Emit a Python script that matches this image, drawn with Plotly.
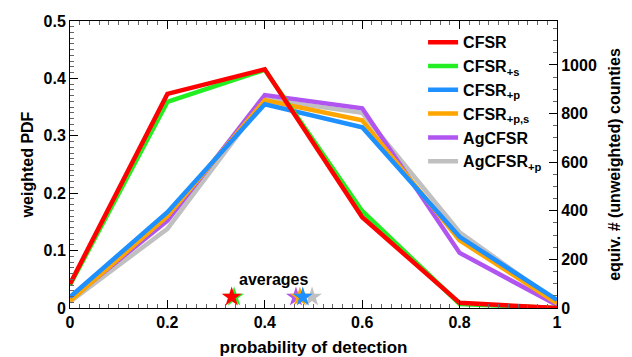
import plotly.graph_objects as go

x = [0, 0.2, 0.4, 0.6, 0.8, 1.0]
names = ["CFSR", "CFSR<sub>+s</sub>", "CFSR<sub>+p</sub>", "CFSR<sub>+p,s</sub>", "AgCFSR", "AgCFSR<sub>+p</sub>"]
colors = ["#ff0000", "#22ee22", "#1e90ff", "#ffa500", "#b055f0", "#c0c0c0"]
cfsr = [0.042, 0.373, 0.416, 0.158, 0.009, 0.0]
cfsr_s = [0.040, 0.359, 0.415, 0.169, 0.007, 0.0]
cfsr_p = [0.019, 0.167, 0.355, 0.315, 0.124, 0.014]
cfsr_ps = [0.012, 0.160, 0.362, 0.327, 0.118, 0.008]
agcfsr = [0.015, 0.152, 0.371, 0.348, 0.096, 0.005]
agcfsr_p = [0.011, 0.138, 0.364, 0.340, 0.132, 0.010]
series = [cfsr, cfsr_s, cfsr_p, cfsr_ps, agcfsr, agcfsr_p]
averages = [0.332, 0.337, 0.478, 0.472, 0.464, 0.497]
avg_y = 0.019
counts_max = 1181

font = dict(family="Liberation Sans", size=16, color="black")

fig = go.Figure()
for i in reversed(range(len(series))):
    fig.add_trace(go.Scatter(x=x, y=series[i], mode="lines", name=names[i],
                             line=dict(color=colors[i], width=4.5)))
star_order = [5, 4, 3, 2, 1, 0]
for i in star_order:
    fig.add_trace(go.Scatter(x=[averages[i]], y=[avg_y], mode="markers", showlegend=False,
                             marker=dict(symbol="star", size=15, color=colors[i], line=dict(width=0))))
fig.add_trace(go.Scatter(x=[0], y=[0], yaxis="y2", mode="markers", showlegend=False,
                         marker=dict(opacity=0), hoverinfo="skip"))

fig.add_annotation(x=0.417, y=0.049, text="<b>averages</b>", showarrow=False,
                   font=dict(family="Liberation Sans", size=16, color="black"))

axis_common = dict(showline=True, linecolor="black", linewidth=1, ticks="inside",
                   ticklen=8, tickcolor="black", showgrid=False, zeroline=False,
                   automargin=False,
                   tickfont=dict(family="Liberation Sans", size=16, color="black", weight="bold"))

fig.update_layout(
    width=632, height=357,
    margin=dict(l=70, r=75, t=21, b=49),
    plot_bgcolor="white", paper_bgcolor="white",
    font=font,
    showlegend=True,
    legend=dict(x=0.725, y=0.985, xanchor="left", yanchor="top", traceorder="reversed",
                bgcolor="rgba(0,0,0,0)", itemwidth=30, tracegroupgap=0,
                font=dict(family="Liberation Sans", size=16, color="black", weight="bold")),
    xaxis=dict(range=[0, 1], dtick=0.2, mirror="ticks",
               minor=dict(dtick=0.02, ticks="inside", ticklen=4, tickcolor="#666"),
               title=dict(text="<b>probability of detection</b>", standoff=11,
                          font=dict(family="Liberation Sans", size=17)),
               **axis_common),
    yaxis=dict(range=[0, 0.5], dtick=0.1,
               minor=dict(dtick=0.01, ticks="inside", ticklen=4, tickcolor="#666"),
               title=dict(text="<b>weighted PDF</b>", standoff=5,
                          font=dict(family="Liberation Sans", size=16)),
               **axis_common),
    yaxis2=dict(range=[0, counts_max], dtick=200, overlaying="y", side="right",
                minor=dict(dtick=50, ticks="inside", ticklen=4, tickcolor="#666"),
                title=dict(text="<b>equiv. # (unweighted) counties</b>", standoff=12,
                           font=dict(family="Liberation Sans", size=16)),
                **axis_common),
)
fig.write_html("out.html")
